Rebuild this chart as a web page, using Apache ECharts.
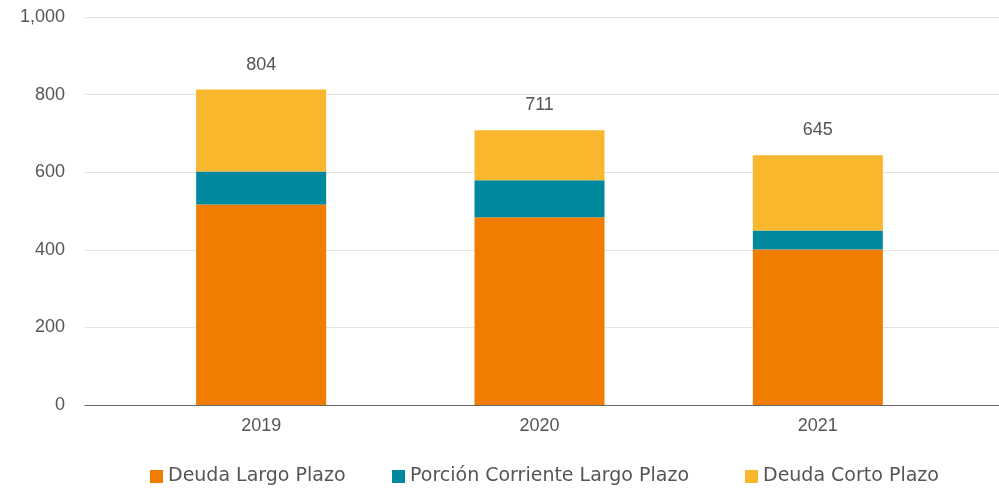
<!DOCTYPE html>
<html>
<head>
<meta charset="utf-8">
<script src="https://cdn.jsdelivr.net/npm/echarts@6/dist/echarts.min.js"></script>
<style>
  html, body { margin: 0; padding: 0; background: #fff; }
  #chart { width: 999px; height: 490px; }
</style>
</head>
<body>
<div id="chart"></div>
<script>
const years = ['2019', '2020', '2021']
const deudaLargo = [517, 484, 401]
const porcionCorriente = [85, 95, 49]
const deudaCorto = [211, 129, 194]
const totals = [804, 711, 645]

const numFont = 'Liberation Sans'
const textFont = 'DejaVu Sans'
const textColor = '#555'

const myChart = echarts.init(document.getElementById('chart'))

// one legend per item so every icon sits where the original has it
const legendItem = (name, left) => ({
  top: 462,
  left,
  itemWidth: 13,
  itemHeight: 13,
  itemGap: 10,
  icon: 'rect',
  textStyle: { fontFamily: textFont, fontSize: 19, color: textColor },
  data: [name]
})

const option = {
  animation: false,
  textStyle: { fontFamily: numFont },
  grid: [
    // full width grid: only used for the gridlines and the zero line
    { left: 85, right: 0, top: 17, bottom: 85 },
    // grid for the bars
    { left: 122, right: 42, top: 17, bottom: 85 }
  ],
  legend: [
    legendItem('Deuda Largo Plazo', 145),
    legendItem('Porción Corriente Largo Plazo', 387),
    legendItem('Deuda Corto Plazo', 740)
  ],
  xAxis: [
    {
      gridIndex: 0,
      type: 'value',
      min: 0,
      max: 1,
      axisLabel: { show: false },
      axisTick: { show: false },
      splitLine: { show: false },
      axisLine: { show: true, lineStyle: { color: '#666', width: 1 } }
    },
    {
      gridIndex: 1,
      type: 'category',
      data: years,
      axisTick: { show: false },
      axisLine: { show: false },
      axisLabel: { fontFamily: numFont, fontSize: 18, color: textColor, margin: 12 }
    }
  ],
  yAxis: [
    {
      gridIndex: 0,
      type: 'value',
      min: 0,
      max: 1000,
      interval: 200,
      axisLine: { show: false },
      axisTick: { show: false },
      axisLabel: { fontFamily: numFont, fontSize: 18, color: textColor, margin: 20 },
      splitLine: { lineStyle: { color: '#e6e2df', width: 1 } }
    },
    {
      gridIndex: 1,
      type: 'value',
      min: 0,
      max: 1000,
      interval: 200,
      axisLine: { show: false },
      axisTick: { show: false },
      axisLabel: { show: false },
      splitLine: { show: false }
    }
  ],
  series: [
    {
      name: 'Deuda Largo Plazo',
      type: 'bar',
      stack: 'deuda',
      xAxisIndex: 1,
      yAxisIndex: 1,
      barWidth: 130,
      itemStyle: { color: '#F07D00' },
      data: deudaLargo
    },
    {
      name: 'Porción Corriente Largo Plazo',
      type: 'bar',
      stack: 'deuda',
      xAxisIndex: 1,
      yAxisIndex: 1,
      barWidth: 130,
      itemStyle: { color: '#00889E' },
      data: porcionCorriente
    },
    {
      name: 'Deuda Corto Plazo',
      type: 'bar',
      stack: 'deuda',
      xAxisIndex: 1,
      yAxisIndex: 1,
      barWidth: 130,
      itemStyle: { color: '#F9B72D' },
      label: {
        show: true,
        position: 'top',
        distance: 16,
        fontFamily: numFont,
        fontSize: 18,
        color: textColor,
        formatter: p => totals[p.dataIndex]
      },
      data: deudaCorto
    }
  ]
}

myChart.setOption(option)
</script>
</body>
</html>
